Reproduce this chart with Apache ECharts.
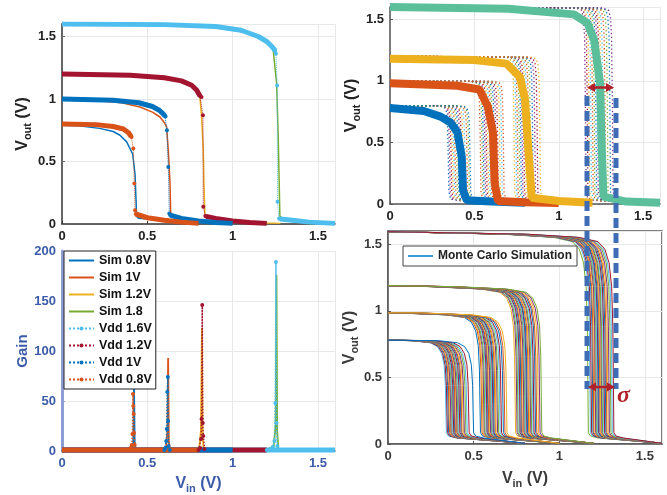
<!DOCTYPE html>
<html>
<head>
<meta charset="utf-8">
<script src="https://cdn.jsdelivr.net/npm/echarts@6/dist/echarts.min.js"></script>
<style>
  html, body { margin: 0; padding: 0; background: #fff; }
  #chart { width: 667px; height: 495px; }
</style>
</head>
<body>
<div id="chart"></div>
<script>
// ---- top left: transfer curves, [vin, vout] ----
const simVtc08 = [[0,0.79],[0.1,0.785],[0.22,0.765],[0.3,0.74],[0.34,0.71],[0.379,0.657],[0.414,0.56],[0.428,0.40],[0.434,0.19],[0.437,0.06],[0.45,0.045],[0.6,0.025],[0.8,0.005]]
const simVtc10 = [[0,1.0],[0.2,0.99],[0.35,0.97],[0.457,0.936],[0.53,0.895],[0.574,0.856],[0.6,0.81],[0.613,0.777],[0.623,0.59],[0.633,0.33],[0.637,0.09],[0.65,0.06],[0.8,0.03],[1.0,0.005]]
const simVtc12 = [[0,1.2],[0.3,1.19],[0.55,1.17],[0.7,1.14],[0.76,1.1],[0.795,1.05],[0.808,1.016],[0.818,0.856],[0.828,0.59],[0.832,0.33],[0.838,0.06],[0.86,0.045],[1.0,0.025],[1.2,0.008],[1.28,0.005]]
const simVtc18 = [[0,1.6],[0.6,1.59],[0.9,1.57],[1.05,1.54],[1.12,1.51],[1.2,1.465],[1.238,1.39],[1.258,1.12],[1.267,0.71],[1.273,0.325],[1.277,0.06],[1.3,0.04],[1.45,0.015],[1.6,0.005]]

// measured: flat top, transition markers, bottom tail
const measTop16 = [[0,1.6],[0.6,1.595],[0.9,1.58],[1.05,1.55],[1.15,1.5],[1.2,1.46],[1.23,1.42],[1.25,1.385]]
const measDot16 = [[1.254,1.362],[1.261,1.109],[1.263,0.178],[1.272,0.045]]
const measTail16 = [[1.278,0.04],[1.35,0.03],[1.45,0.015],[1.6,0.005]]
const measTop12 = [[0,1.2],[0.4,1.19],[0.6,1.17],[0.7,1.145],[0.76,1.11],[0.79,1.07],[0.808,1.025]]
const measDot12 = [[0.818,1.016],[0.826,0.87],[0.828,0.138],[0.84,0.065]]
const measTail12 = [[0.845,0.06],[0.9,0.045],[1.0,0.025],[1.1,0.012],[1.2,0.005]]
const measTop10 = [[0,1.0],[0.3,0.99],[0.45,0.97],[0.53,0.94],[0.57,0.91],[0.59,0.885],[0.603,0.865]]
const measDot10 = [[0.607,0.86],[0.615,0.75],[0.623,0.457],[0.629,0.085]]
const measTail10 = [[0.635,0.07],[0.7,0.045],[0.8,0.025],[0.9,0.012],[1.0,0.005]]
const measTop08 = [[0,0.8],[0.2,0.795],[0.3,0.78],[0.36,0.76],[0.39,0.73],[0.405,0.70]]
const measDot08 = [[0.408,0.697],[0.418,0.604],[0.424,0.325],[0.428,0.11]]
const measTail08 = [[0.432,0.08],[0.5,0.05],[0.6,0.03],[0.7,0.015],[0.8,0.005]]

// ---- bottom left: gain, [vin, gain] ----
const gainSim08 = [[0,0.5],[0.38,0.8],[0.41,2],[0.418,8],[0.422,65],[0.426,8],[0.432,1],[0.5,0.5],[0.8,0.3]]
const gainSim10 = [[0,0.5],[0.58,1],[0.61,4],[0.618,20],[0.622,93],[0.626,10],[0.632,1],[0.7,0.5],[1,0.3]]
const gainSim12 = [[0,0.5],[0.78,1],[0.805,4],[0.814,20],[0.82,123],[0.824,15],[0.83,2],[0.9,0.5],[1.2,0.3]]
const gainSim18 = [[0,0.5],[1.2,1],[1.24,4],[1.252,25],[1.257,176],[1.261,20],[1.268,2],[1.3,0.5],[1.6,0.3]]
const gainVdd16 = [[1.2,1],[1.22,2],[1.235,4],[1.245,10],[1.25,48],[1.254,189],[1.257,28],[1.262,5],[1.27,1]]
const gainVdd12 = [[0.8,1],[0.81,3],[0.815,12],[0.818,32],[0.822,146],[0.825,28],[0.828,15],[0.835,2]]
const gainVdd10 = [[0.6,1],[0.607,3],[0.611,10],[0.614,22],[0.617,59],[0.62,74],[0.622,30],[0.625,5],[0.632,1]]
const gainVdd08 = [[0.39,1],[0.403,3],[0.409,6],[0.413,17],[0.416,57],[0.418,45],[0.42,37],[0.422,18],[0.426,6],[0.432,1]]
const supplies = [1.6, 1.2, 1.0, 0.8]

// ---- top right: Monte Carlo, mean curves + dotted runs ----
const mcMean08 = [[0,0.78],[0.2,0.755],[0.3,0.71],[0.36,0.66],[0.40,0.58],[0.425,0.385],[0.433,0.11],[0.455,0.03],[0.6,0.02],[0.8,0.01]]
const mcMean10 = [[0,0.98],[0.4,0.96],[0.53,0.93],[0.58,0.79],[0.61,0.58],[0.62,0.17],[0.64,0.025],[0.8,0.015],[1.0,0.008]]
const mcMean12 = [[0,1.18],[0.5,1.17],[0.69,1.14],[0.77,1.03],[0.8,0.85],[0.82,0.44],[0.84,0.05],[1.0,0.025],[1.2,0.01]]
const mcMean16 = [[0,1.6],[0.7,1.585],[1.09,1.54],[1.17,1.47],[1.21,1.33],[1.245,0.98],[1.255,0.44],[1.265,0.06],[1.4,0.02],[1.6,0.01]]

const dotT08 = [0.345,0.353,0.362,0.37,0.378,0.386,0.395,0.404,0.413,0.423,0.433,0.444,0.456,0.466,0.474]
const dotT10 = [0.535,0.545,0.553,0.562,0.571,0.58,0.589,0.598,0.607,0.617,0.627,0.638,0.65,0.661,0.672]
const dotT12 = [0.735,0.746,0.755,0.765,0.774,0.783,0.793,0.802,0.811,0.821,0.832,0.845,0.858,0.872,0.888]
const dotT16 = [1.158,1.169,1.179,1.19,1.2,1.21,1.22,1.23,1.24,1.25,1.261,1.274,1.288,1.303,1.318]
// shape of one run around its switching point: [offset from switch, fraction of Vdd]
const dotKnee = [[-0.06,0.995],[-0.025,0.985],[-0.012,0.95],[-0.005,0.85],[0,0.5]]
const dotFoot = [[0.004,0.1],[0.014,0.04],[0.08,0.025]]

// ---- bottom right: Monte Carlo runs ----
const runT08 = [0.338,0.344,0.351,0.356,0.362,0.366,0.372,0.376,0.381,0.387,0.391,0.397,0.401,0.407,0.412,0.417,0.424,0.429,0.437,0.443,0.452,0.46,0.471,0.497]
const runT10 = [0.537,0.546,0.552,0.559,0.564,0.571,0.576,0.582,0.586,0.592,0.596,0.602,0.606,0.612,0.617,0.624,0.629,0.637,0.643,0.652,0.66,0.671,0.68,0.692]
const runT12 = [0.742,0.751,0.757,0.764,0.769,0.776,0.781,0.788,0.792,0.798,0.802,0.808,0.812,0.819,0.824,0.831,0.836,0.844,0.85,0.859,0.866,0.876,0.885,0.895]
const runT16 = [1.167,1.179,1.186,1.194,1.199,1.206,1.21,1.216,1.22,1.226,1.23,1.236,1.24,1.246,1.25,1.257,1.262,1.269,1.275,1.283,1.29,1.299,1.307,1.316]
const runStart = [0.78, 0.985, 1.19, 1.595]
const runKnee = [[-0.5,0.985],[-0.2,0.97],[-0.09,0.95],[-0.05,0.915],[-0.025,0.85],[-0.01,0.74],[-0.003,0.55],[0,0.3]]
const runFoot = [[0.003,0.085],[0.015,0.06],[0.06,0.045]]

const matlab = ['#0072BD', '#D95319', '#EDB120', '#7E2F8E', '#77AC30', '#4DBEEE', '#A2142F']
const FONT = "'Liberation Sans', Arial, sans-serif"
const BLUE = '#3b5ba8'
const LINE_ICON = 'path://M0,0H25V2H0Z'

function runCurve(t, vdd, start, knee, foot) {
  const pts = [[0, start]]
  knee.forEach(([dx, f]) => { if (t + dx > 0.02) pts.push([t + dx, vdd * f]) })
  foot.forEach(([dx, v]) => { if (t + dx < vdd) pts.push([t + dx, v]) })
  pts.push([vdd, 0.005])
  return pts
}

const axisName = (sub, color) => ({
  name: '{v|V}{s|' + sub + '}{v| (V)}',
  nameLocation: 'middle',
  nameTextStyle: {
    color: color,
    rich: {
      v: { fontFamily: FONT, fontWeight: 'bold', fontSize: 16, color: color },
      s: { fontFamily: FONT, fontWeight: 'bold', fontSize: 11, color: color, padding: [10, 0, 0, 0] }
    }
  }
})

function vAxis(grid, opts) {
  const c = opts.labelColor
  return Object.assign({
    type: 'value', gridIndex: grid, min: 0, max: opts.max, interval: opts.interval,
    axisLine: { show: true, onZero: false, lineStyle: { color: opts.lineColor, width: opts.lineWidth || 1.5 } },
    axisTick: { show: true, inside: true, length: 3, lineStyle: { color: opts.lineColor } },
    axisLabel: { color: c, fontFamily: FONT, fontWeight: 'bold', fontSize: 13, margin: opts.margin || 6, showMaxLabel: opts.showMax !== false },
    splitLine: { show: true, lineStyle: { color: '#e8e8e8', width: 1 } },
    nameGap: opts.nameGap
  }, opts.extra || {})
}

const series = []
const line = (x, data, color, width, extra) => Object.assign({
  type: 'line', xAxisIndex: x, yAxisIndex: x, data: data, showSymbol: false, symbol: 'none',
  lineStyle: { color: color, width: width }, itemStyle: { color: color },
  animation: false, silent: true
}, extra || {})

// top left
;[[simVtc08, matlab[0]], [simVtc10, matlab[1]], [simVtc12, matlab[2]], [simVtc18, matlab[4]]].forEach(([d, c]) => {
  series.push(line(0, d, c, 1.5))
})
;[[measTop16, measDot16, measTail16, matlab[5]], [measTop12, measDot12, measTail12, matlab[6]],
  [measTop10, measDot10, measTail10, matlab[0]], [measTop08, measDot08, measTail08, matlab[1]]].forEach(([top, dot, tail, c]) => {
  series.push(line(0, top, c, 5))
  series.push(line(0, tail, c, 5))
  series.push(line(0, [top[top.length - 1]].concat(dot, [tail[0]]), c, 1, {
    symbol: 'circle', symbolSize: 4, showSymbol: true, lineStyle: { color: c, width: 1, type: 'dotted' }
  }))
})

// bottom left
const simNames = ['Sim 0.8V', 'Sim 1V', 'Sim 1.2V', 'Sim 1.8']
;[gainSim08, gainSim10, gainSim12, gainSim18].forEach((d, i) => {
  series.push(line(1, d, [matlab[0], matlab[1], matlab[2], matlab[4]][i], 1.8, { name: simNames[i] }))
})
const vddNames = ['Vdd 1.6V', 'Vdd 1.2V', 'Vdd 1V', 'Vdd 0.8V']
const vddColors = [matlab[5], matlab[6], matlab[0], matlab[1]]
;[gainVdd16, gainVdd12, gainVdd10, gainVdd08].forEach((d, i) => {
  const c = vddColors[i]
  series.push(line(1, [[0, 1], [supplies[i], 1]], c, 5, { name: 'base' + i }))
  series.push(line(1, d, c, 1.5, {
    name: vddNames[i], symbol: 'circle', symbolSize: 4, showSymbol: true,
    lineStyle: { color: c, width: 1.5, type: 'dotted' }
  }))
})

// top right
;[[dotT08, 0.8], [dotT10, 1.0], [dotT12, 1.2], [dotT16, 1.6]].forEach(([ts, vdd], g) => {
  ts.forEach((t, i) => {
    const c = matlab[(i * 3 + g) % 7]
    series.push(line(2, runCurve(t, vdd, vdd, dotKnee, dotFoot), c, 1.3, {
      lineStyle: { color: c, width: 1.3, type: [1.3, 2.6] }
    }))
  })
})
;[[mcMean08, matlab[0]], [mcMean10, matlab[1]], [mcMean12, matlab[2]], [mcMean16, '#5bbf9c']].forEach(([d, c]) => {
  series.push(line(2, d, c, 8))
})

// bottom right
;[[runT08, 0.8], [runT10, 1.0], [runT12, 1.2], [runT16, 1.6]].forEach(([ts, vdd], g) => {
  ts.forEach((t, i) => {
    const c = matlab[(i + 5 + g * 2) % 7]
    series.push(line(3, runCurve(t, vdd, runStart[g], runKnee, runFoot), c, 1, { name: 'Monte Carlo Simulation' }))
  })
})

const chart = echarts.init(document.getElementById('chart'))
chart.setOption({
  animation: false,
  backgroundColor: '#fff',
  grid: [
    { left: 62, top: 24, width: 273, height: 200 },
    { left: 62, top: 251, width: 273, height: 200 },
    { left: 390, top: 7, width: 270, height: 197 },
    { left: 388, top: 231, width: 274, height: 213, show: true, borderColor: '#555', borderWidth: 1.5 }
  ],
  xAxis: [
    vAxis(0, { max: 1.6, interval: 0.5, lineColor: '#333', labelColor: '#222', showMax: false }),
    vAxis(1, { max: 1.6, interval: 0.5, lineColor: '#555', labelColor: BLUE, showMax: false, nameGap: 22, extra: axisName('in', BLUE) }),
    vAxis(2, { max: 1.6, interval: 0.5, lineColor: '#555', labelColor: '#222', showMax: false }),
    vAxis(3, { max: 1.6, interval: 0.5, lineColor: '#555', labelColor: '#3a3a3a', showMax: false, nameGap: 24, extra: axisName('in', '#3a3a3a') })
  ],
  yAxis: [
    vAxis(0, { max: 1.6, interval: 0.5, lineColor: '#666', lineWidth: 2, labelColor: '#222', showMax: false, nameGap: 29, extra: axisName('out', '#222') }),
    vAxis(1, { max: 200, interval: 50, lineColor: '#8e9dd4', lineWidth: 3, labelColor: BLUE, nameGap: 25,
      extra: { name: 'Gain', nameLocation: 'middle', nameTextStyle: { color: BLUE, fontFamily: FONT, fontWeight: 'bold', fontSize: 15 } } }),
    vAxis(2, { max: 1.6, interval: 0.5, lineColor: '#555', labelColor: '#222', showMax: false, nameGap: 26, extra: axisName('out', '#222') }),
    vAxis(3, { max: 1.6, interval: 0.5, lineColor: '#555', labelColor: '#3a3a3a', showMax: false, nameGap: 26, extra: axisName('out', '#3a3a3a') })
  ],
  legend: [
    {
      data: simNames.map(n => ({ name: n, icon: LINE_ICON })).concat(vddNames),
      orient: 'vertical', left: 64, top: 251, padding: [3, 4],
      itemWidth: 25, itemHeight: 5, itemGap: 4,
      backgroundColor: '#fff', borderColor: '#222', borderWidth: 1, borderRadius: 0,
      textStyle: { fontFamily: FONT, fontWeight: 'bold', fontSize: 12.5, color: '#111', padding: [1, 0, 0, 0] },
      selectedMode: false
    },
    {
      data: [{ name: 'Monte Carlo Simulation', icon: LINE_ICON, itemStyle: { color: '#3a9bd9' } }],
      left: 403, top: 246, padding: [4, 5],
      itemWidth: 25, itemHeight: 5,
      backgroundColor: '#fff', borderColor: '#444', borderWidth: 1, borderRadius: 0,
      textStyle: { fontFamily: FONT, fontWeight: 'bold', fontSize: 12, color: '#222', padding: [1, 0, 0, 0] },
      selectedMode: false
    }
  ],
  graphic: [
    { type: 'line', z: 100, shape: { x1: 587, y1: 96, x2: 587, y2: 389 }, style: { stroke: '#3f6db5', lineWidth: 5, lineDash: [10, 5] } },
    { type: 'line', z: 100, shape: { x1: 616, y1: 98, x2: 616, y2: 389 }, style: { stroke: '#3f6db5', lineWidth: 5, lineDash: [10, 5] } },
    { type: 'line', z: 101, shape: { x1: 592, y1: 87.5, x2: 609, y2: 87.5 }, style: { stroke: '#b2202b', lineWidth: 2.5 } },
    { type: 'polygon', z: 101, shape: { points: [[587, 87.5], [595, 83], [595, 92]] }, style: { fill: '#b2202b' } },
    { type: 'polygon', z: 101, shape: { points: [[614, 87.5], [606, 83], [606, 92]] }, style: { fill: '#b2202b' } },
    { type: 'line', z: 101, shape: { x1: 593, y1: 387, x2: 610, y2: 387 }, style: { stroke: '#b2202b', lineWidth: 2.5 } },
    { type: 'polygon', z: 101, shape: { points: [[588, 387], [596, 382.5], [596, 391.5]] }, style: { fill: '#b2202b' } },
    { type: 'polygon', z: 101, shape: { points: [[615, 387], [607, 382.5], [607, 391.5]] }, style: { fill: '#b2202b' } },
    { type: 'text', z: 101, left: 617, top: 384, style: { text: 'σ', fill: '#b2202b', font: "italic bold 24px 'Liberation Serif', serif" } }
  ],
  series: series
})
</script>
</body>
</html>
